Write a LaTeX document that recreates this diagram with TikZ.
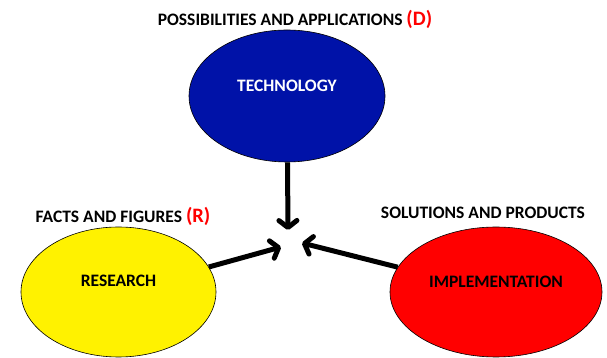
\documentclass[tikz,border=0pt]{standalone}
\usepackage{fontspec}
\setmainfont{Carlito}
\usepackage{tikz}
\usetikzlibrary{positioning}
\usetikzlibrary{arrows.meta}
\usetikzlibrary{calc}
\usetikzlibrary{shapes.geometric}
\definecolor{techblue}{RGB}{0,18,168}
\tikzset{>={Straight Barb[length=7pt,width=18pt,round]}}
\tikzstyle{bubble}=[draw=black,line width=0.6pt,shape=ellipse,inner sep=0pt]
\tikzstyle{inlabel}=[font=\bfseries\fontsize{17.5pt}{20pt}\selectfont,inner sep=0pt]
\tikzstyle{toplabel}=[font=\bfseries\fontsize{17.5pt}{20pt}\selectfont,inner sep=0pt,black]
\tikzstyle{taro}=[->,line width=5pt,color=black]
\newcommand{\tag}[1]{{\fontsize{20.5pt}{22pt}\selectfont\textcolor{red}{(#1)}}}
\begin{document}
\begin{tikzpicture}[x=1pt,y=1pt]
	\useasboundingbox (0, 0) rectangle (607, 358);

	% Technology
	\node[bubble, fill=techblue, minimum width=196pt, minimum height=132pt] (tech) at (287, 262) {};
	\node[inlabel, white] (techtext) at ($(tech) + (0, 10)$) {TECHNOLOGY};
	\node[toplabel] (dlabel) at (295, 339) {POSSIBILITIES AND APPLICATIONS \tag{D}};

	% Research
	\node[bubble, fill=yellow, minimum width=195pt, minimum height=130pt] (research) at (118.5, 66) {};
	\node[inlabel] (restext) at ($(research) + (0, 11)$) {RESEARCH};
	\node[toplabel] (rlabel) at (123, 142) {FACTS AND FIGURES \tag{R}};

	% Implementation
	\node[bubble, fill=red, minimum width=212pt, minimum height=130pt] (impl) at (496, 66) {};
	\node[inlabel] (impltext) at ($(impl) + (0, 10)$) {IMPLEMENTATION};
	\node[toplabel] (slabel) at (483, 145) {SOLUTIONS AND PRODUCTS};

	% Arrows
	\coordinate (tipd) at (288, 128);
	\coordinate (tipr) at (281, 111);
	\coordinate (tips) at (302, 115);
	\draw[taro] (tech) -- (tipd);
	\draw[taro] (research) -- (tipr);
	\draw[taro] (impl) -- (tips);
\end{tikzpicture}
\end{document}
